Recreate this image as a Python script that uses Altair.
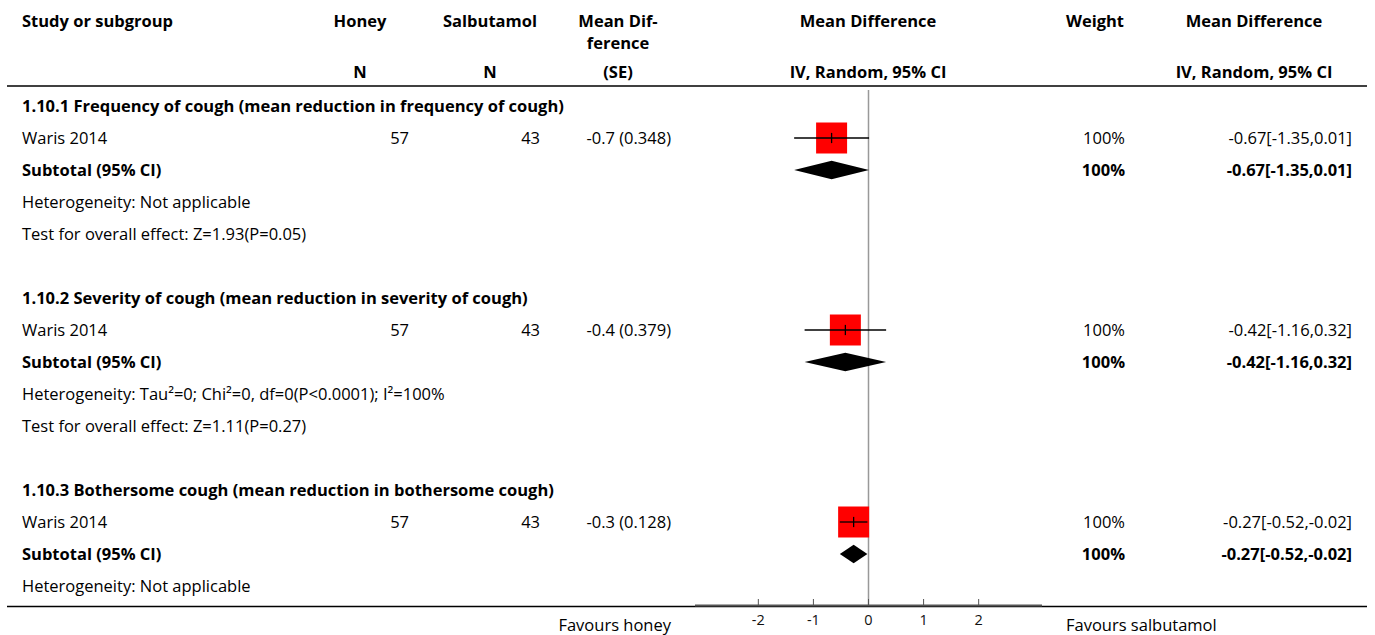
import altair as alt
import pandas as pd

# ---- forest plot data: honey vs salbutamol ----
subgroup_titles = [
    "1.10.1 Frequency of cough (mean reduction in frequency of cough)",
    "1.10.2 Severity of cough (mean reduction in severity of cough)",
    "1.10.3 Bothersome cough (mean reduction in bothersome cough)",
]
study_names = ["Waris 2014", "Waris 2014", "Waris 2014"]
honey_n = [57, 57, 57]
salbutamol_n = [43, 43, 43]
md_se = ["-0.7 (0.348)", "-0.4 (0.379)", "-0.3 (0.128)"]
estimate = [-0.67, -0.42, -0.27]
ci_low = [-1.35, -1.16, -0.52]
ci_high = [0.01, 0.32, -0.02]
weights = ["100%", "100%", "100%"]
heterogeneity = [
    "Heterogeneity: Not applicable",
    "Heterogeneity: Tau²=0; Chi²=0, df=0(P<0.0001); I²=100%",
    "Heterogeneity: Not applicable",
]
overall_effect = [
    "Test for overall effect: Z=1.93(P=0.05)",
    "Test for overall effect: Z=1.11(P=0.27)",
    "",
]
axis_ticks = [-2, -1, 0, 1, 2]

# ---- layout ----
W, H = 1375, 635
ROW_PX = 32
TOP = 106
FONT = "Open Sans"
FONT_SIZE = 16.5
ROWS_PER_GROUP = 6

y_scale = alt.Scale(domain=[-TOP / ROW_PX, (H - TOP) / ROW_PX], range=[0, H], zero=False, nice=False)
x_scale = alt.Scale(domain=[-3.15, 3.15], range=[695, 1042], zero=False, nice=False)


def fmt_ci(e, lo, hi):
    return f"{e:.2f}[{lo:.2f},{hi:.2f}]"


# assemble table rows
rows_normal = {"study": [], "honey": [], "salb": [], "se": [], "weight": [], "ci": []}
rows_bold = {"study": [], "weight": [], "ci": []}
studies, diamonds = [], []
for g in range(len(subgroup_titles)):
    r0 = g * ROWS_PER_GROUP
    rows_bold["study"].append((r0, subgroup_titles[g]))
    rows_normal["study"].append((r0 + 1, study_names[g]))
    rows_normal["honey"].append((r0 + 1, str(honey_n[g])))
    rows_normal["salb"].append((r0 + 1, str(salbutamol_n[g])))
    rows_normal["se"].append((r0 + 1, md_se[g]))
    rows_normal["weight"].append((r0 + 1, weights[g]))
    rows_normal["ci"].append((r0 + 1, fmt_ci(estimate[g], ci_low[g], ci_high[g])))
    rows_bold["study"].append((r0 + 2, "Subtotal (95% CI)"))
    rows_bold["weight"].append((r0 + 2, weights[g]))
    rows_bold["ci"].append((r0 + 2, fmt_ci(estimate[g], ci_low[g], ci_high[g])))
    rows_normal["study"].append((r0 + 3, heterogeneity[g]))
    if overall_effect[g]:
        rows_normal["study"].append((r0 + 4, overall_effect[g]))
    studies.append({"row": r0 + 1, "est": estimate[g], "lo": ci_low[g], "hi": ci_high[g],
                    "t1": r0 + 1 - 0.16, "t2": r0 + 1 + 0.16})
    h = 0.29
    diamonds += [
        {"grp": g, "x": ci_low[g], "y1": r0 + 2, "y2": r0 + 2},
        {"grp": g, "x": estimate[g], "y1": r0 + 2 - h, "y2": r0 + 2 + h},
        {"grp": g, "x": ci_high[g], "y1": r0 + 2, "y2": r0 + 2},
    ]

studies_df = pd.DataFrame(studies)
diamond_df = pd.DataFrame(diamonds)


def to_df(pairs):
    return pd.DataFrame(pairs, columns=["row", "label"])


def text_layer(df, x, align, bold=False, size=FONT_SIZE, y=None):
    enc = {"x": alt.value(x), "text": "label:N"}
    enc["y"] = y if y is not None else alt.Y("row:Q", scale=y_scale, axis=None)
    return alt.Chart(df).mark_text(
        align=align, baseline="middle", font=FONT, fontSize=size, dy=1,
        fontWeight="bold" if bold else "normal", color="black",
    ).encode(**enc)


col_x = {"study": (22, "left"), "honey": (409, "right"), "salb": (540, "right"),
         "se": (671, "right"), "weight": (1125, "right"), "ci": (1352, "right")}

layers = []

# header
header_top = ["Study or subgroup", "Honey", "Salbutamol", "Mean Dif-", "Mean Difference", "Weight", "Mean Difference"]
header_bottom = ["", "N", "N", "(SE)", "IV, Random, 95% CI", "", "IV, Random, 95% CI"]
header_x = [(22, "left"), (360, "center"), (490, "center"), (618, "center"),
            (868, "center"), (1095, "center"), (1254, "center")]
for (hx, ha), t1, t2 in zip(header_x, header_top, header_bottom):
    layers.append(text_layer(to_df([(0, t1)]), hx, ha, bold=True, y=alt.value(21)))
    if t2:
        layers.append(text_layer(to_df([(0, t2)]), hx, ha, bold=True, y=alt.value(72)))
layers.append(text_layer(to_df([(0, "ference")]), 618, "center", bold=True, y=alt.value(43)))

# body text
for key, pairs in rows_normal.items():
    x, a = col_x[key]
    layers.append(text_layer(to_df(pairs), x, a))
for key, pairs in rows_bold.items():
    x, a = col_x[key]
    layers.append(text_layer(to_df(pairs), x, a, bold=True))

# rules: header separator and bottom line
layers.append(alt.Chart(pd.DataFrame({"a": [0]})).mark_rule(color="black", strokeWidth=1.5).encode(
    x=alt.value(7), x2=alt.value(1367), y=alt.value(86)))
layers.append(alt.Chart(pd.DataFrame({"a": [0]})).mark_rule(color="black", strokeWidth=1.5).encode(
    x=alt.value(7), x2=alt.value(1367), y=alt.value(606.5)))

# line of no effect
layers.append(alt.Chart(pd.DataFrame({"v": [0]})).mark_rule(color="#999999", strokeWidth=1.5).encode(
    x=alt.X("v:Q", scale=x_scale, axis=None), y=alt.value(90), y2=alt.value(606)))

# forest axis
layers.append(alt.Chart(pd.DataFrame({"lo": [x_scale.domain[0]], "hi": [x_scale.domain[1]]})).mark_rule(
    color="#555555", strokeWidth=2).encode(
    x=alt.X("lo:Q", scale=x_scale, axis=None), x2="hi:Q", y=alt.value(605.5)))
ticks_df = pd.DataFrame({"t": axis_ticks, "label": [str(t) for t in axis_ticks]})
layers.append(alt.Chart(ticks_df).mark_rule(color="#555555", strokeWidth=1).encode(
    x=alt.X("t:Q", scale=x_scale, axis=None), y=alt.value(599), y2=alt.value(605)))
layers.append(alt.Chart(ticks_df).mark_text(font=FONT, fontSize=14.5, color="#111111", baseline="middle").encode(
    x=alt.X("t:Q", scale=x_scale, axis=None), y=alt.value(621), text="label:N"))

# favours labels
layers.append(text_layer(to_df([(0, "Favours honey")]), 671, "right", y=alt.value(625)))
layers.append(text_layer(to_df([(0, "Favours salbutamol")]), 1066, "left", y=alt.value(625)))

# study boxes, CIs, and centre ticks
layers.append(alt.Chart(studies_df).mark_square(size=961, color="#ff0000", opacity=1).encode(
    x=alt.X("est:Q", scale=x_scale, axis=None), y=alt.Y("row:Q", scale=y_scale, axis=None)))
layers.append(alt.Chart(studies_df).mark_rule(color="black", strokeWidth=1.3).encode(
    x=alt.X("lo:Q", scale=x_scale, axis=None), x2="hi:Q", y=alt.Y("row:Q", scale=y_scale, axis=None)))
layers.append(alt.Chart(studies_df).mark_rule(color="black", strokeWidth=1.3).encode(
    x=alt.X("est:Q", scale=x_scale, axis=None), y=alt.Y("t1:Q", scale=y_scale, axis=None), y2="t2:Q"))

# pooled diamonds
layers.append(alt.Chart(diamond_df).mark_area(color="black", orient="vertical", interpolate="linear").encode(
    x=alt.X("x:Q", scale=x_scale, axis=None),
    y=alt.Y("y1:Q", scale=y_scale, axis=None, stack=None), y2="y2:Q",
    detail="grp:N"))

chart = alt.layer(*layers).properties(
    width=W, height=H, autosize=alt.AutoSizeParams(type="none"), padding=0, background="white",
).configure_view(stroke=None)

chart.save("out.html", embed_options={"renderer": "svg", "actions": False})
